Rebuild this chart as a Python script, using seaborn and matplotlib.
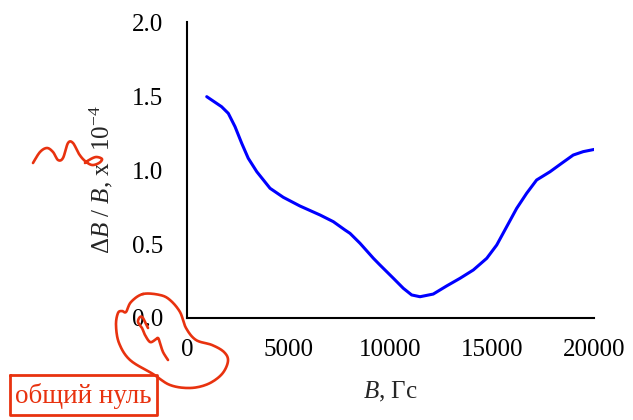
import numpy as np
import pandas as pd
import matplotlib
matplotlib.use("Agg")
import matplotlib.pyplot as plt
import seaborn as sns

# Relative field inhomogeneity vs. field strength
field_gs = [970, 1700, 2030, 2360, 2690, 3010, 3430, 4080, 4730, 5550, 6540,
            7190, 7760, 8010, 8500, 9160, 9480, 10140, 10630, 11040, 11450,
            12100, 12760, 13420, 14070, 14730, 15220, 15710, 16200, 16690,
            17180, 17840, 18410, 18980, 19470, 20050]
dB_over_B = [1.498, 1.430, 1.385, 1.295, 1.182, 1.081, 0.990, 0.878, 0.817,
             0.758, 0.697, 0.652, 0.596, 0.573, 0.506, 0.404, 0.359, 0.269,
             0.201, 0.156, 0.144, 0.162, 0.217, 0.269, 0.325, 0.404, 0.494,
             0.618, 0.742, 0.844, 0.934, 0.990, 1.047, 1.103, 1.126, 1.142]

x_ticks = [0, 5000, 10000, 15000, 20000]
y_ticks = [0.0, 0.5, 1.0, 1.5, 2.0]
x_label = r"$B$, Гс"
y_label = r"$\Delta B$ / $B$, $\mathrm{x}\ \ 10^{-4}$"
note_text = "общий нуль"

sns.set_style("white")
plt.rcParams["font.family"] = ["Liberation Serif", "DejaVu Serif"]
plt.rcParams["mathtext.fontset"] = "custom"
plt.rcParams["mathtext.rm"] = "Liberation Serif"
plt.rcParams["mathtext.it"] = "Liberation Serif:italic"

W, H = 633, 420
fig = plt.figure(figsize=(W / 100, H / 100), dpi=100)
ax = fig.add_axes([187 / W, 1 - 318 / H, (594 - 187) / W, (318 - 22.5) / H])

df = pd.DataFrame({"B": field_gs, "ratio": dB_over_B})
sns.lineplot(data=df, x="B", y="ratio", ax=ax, color="#0000FF", lw=2.2)

ax.set_xlim(0, 20000)
ax.set_ylim(0, 2.0)
ax.set_xticks(x_ticks)
ax.set_xticklabels([str(v) for v in x_ticks])
ax.set_yticks(y_ticks)
ax.set_yticklabels([f"{v:.1f}" for v in y_ticks])
ax.tick_params(direction="in", length=5.5, width=1.4, labelsize=18, colors="black")
ax.tick_params(axis="x", pad=15)
ax.tick_params(axis="y", pad=17)
for side in ("top", "right"):
    ax.spines[side].set_visible(False)
for side in ("left", "bottom"):
    ax.spines[side].set_linewidth(1.5)
    ax.spines[side].set_color("black")

ax.set_xlabel(x_label, fontsize=18)
ax.set_ylabel(y_label, fontsize=18)
ax.xaxis.set_label_coords(0.5, -0.208)
ax.yaxis.set_label_coords(-0.176, 0.469)


def catmull_rom(pts, n=14, closed=False):
    p = np.asarray(pts, dtype=float)
    if closed:
        p = np.vstack([p[-1], p, p[0], p[1]])
    else:
        p = np.vstack([p[0], p, p[-1]])
    out = []
    for i in range(1, len(p) - 2):
        p0, p1, p2, p3 = p[i - 1], p[i], p[i + 1], p[i + 2]
        t = np.linspace(0, 1, n, endpoint=False)[:, None]
        seg = 0.5 * ((2 * p1) + (-p0 + p2) * t
                     + (2 * p0 - 5 * p1 + 4 * p2 - p3) * t ** 2
                     + (-p0 + 3 * p1 - 3 * p2 + p3) * t ** 3)
        out.append(seg)
    out.append(p[-2][None, :])
    return np.vstack(out)


# Hand-drawn red markup on top of the figure (pixel coordinates)
ov = fig.add_axes([0, 0, 1, 1], facecolor="none")
ov.set_xlim(0, W)
ov.set_ylim(H, 0)
ov.axis("off")
red = "#E8320F"

squiggle_top = [(33, 163), (40, 152), (47, 148), (53, 152), (58, 160), (63, 158),
                (68, 143), (73, 143), (79, 154), (85, 161), (92, 165), (99, 163),
                (102, 159), (96, 157), (89, 160), (85, 163)]
c = catmull_rom(squiggle_top)
ov.plot(c[:, 0], c[:, 1], color=red, lw=1.9, solid_capstyle="round")

blob = [(143, 294), (160, 295), (170, 300), (180, 312), (186, 328), (196, 340),
        (212, 345), (224, 352), (228, 361), (222, 374), (208, 384), (190, 388),
        (170, 385), (153, 374), (130, 360), (119, 343), (116, 325), (118, 313),
        (122, 311), (126, 312), (131, 302)]
c = catmull_rom(blob, closed=True)
ov.plot(c[:, 0], c[:, 1], color=red, lw=1.9)

squiggle_low = [(148, 328), (143, 318), (140, 317), (138, 322), (142, 328),
                (145, 335), (150, 342), (155, 340), (158, 338), (160, 343),
                (163, 352), (168, 360)]
c = catmull_rom(squiggle_low)
ov.plot(c[:, 0], c[:, 1], color=red, lw=1.9, solid_capstyle="round")

ov.plot([10, 157, 157, 10, 10], [375, 375, 415, 415, 375], color=red, lw=2.0)
ov.text(83, 396, note_text, color=red, fontsize=19.5, ha="center", va="center")

fig.savefig("out.png", dpi=100)
